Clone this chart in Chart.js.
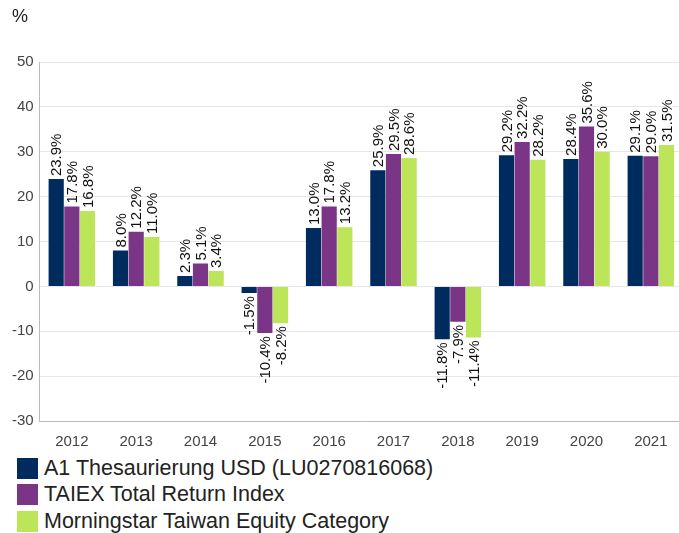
<!DOCTYPE html>
<html>
<head>
<meta charset="utf-8">
<script src="https://cdn.jsdelivr.net/npm/chart.js@4/dist/chart.umd.min.js"></script>
<style>
body { margin: 0; background: #fff; font-family: "Liberation Sans", Arial, sans-serif; overflow: hidden; }
#wrap { position: relative; width: 683px; height: 455px; }
#unit { position: absolute; left: 12px; top: 6px; font-size: 18px; color: #222; }
#legend { padding-left: 17px; margin-top: 0; }
.item { display: flex; align-items: center; height: 26.5px; font-size: 21.5px; color: #222; }
.box { width: 21px; height: 21px; margin-right: 6px; }
</style>
</head>
<body>
<div id="wrap"><canvas id="perfChart"></canvas><div id="unit">%</div></div>
<div id="legend"></div>
<script>
var years = ['2012', '2013', '2014', '2015', '2016', '2017', '2018', '2019', '2020', '2021'];
var fundValues = [23.9, 8.0, 2.3, -1.5, 13.0, 25.9, -11.8, 29.2, 28.4, 29.1];
var indexValues = [17.8, 12.2, 5.1, -10.4, 17.8, 29.5, -7.9, 32.2, 35.6, 29.0];
var categoryValues = [16.8, 11.0, 3.4, -8.2, 13.2, 28.6, -11.4, 28.2, 30.0, 31.5];
var seriesNames = ['A1 Thesaurierung USD (LU0270816068)', 'TAIEX Total Return Index', 'Morningstar Taiwan Equity Category'];
var seriesColors = ['#002b5e', '#7b3586', '#bde55a'];

// rotated value labels above / below each bar
var valueLabels = {
    id: 'valueLabels',
    afterDatasetsDraw: function(chart) {
        var ctx = chart.ctx;
        ctx.save();
        ctx.font = '15px "Liberation Sans", Arial, sans-serif';
        ctx.fillStyle = '#111';
        ctx.textBaseline = 'middle';
        chart.data.datasets.forEach(function(ds, i) {
            chart.getDatasetMeta(i).data.forEach(function(bar, j) {
                var v = ds.data[j];
                ctx.save();
                if (v >= 0) {
                    ctx.translate(bar.x, bar.y - 3);
                    ctx.rotate(-Math.PI / 2);
                    ctx.textAlign = 'left';
                } else {
                    ctx.translate(bar.x, bar.y + 3);
                    ctx.rotate(-Math.PI / 2);
                    ctx.textAlign = 'right';
                }
                ctx.fillText(v.toFixed(1) + '%', 0, 1);
                ctx.restore();
            });
        });
        ctx.restore();
    }
};

var perf = new Chart(document.getElementById('perfChart'), {
    type: 'bar',
    data: {
        labels: years,
        datasets: [{
            label: seriesNames[0],
            data: fundValues,
            backgroundColor: seriesColors[0]
        }, {
            label: seriesNames[1],
            data: indexValues,
            backgroundColor: seriesColors[1]
        }, {
            label: seriesNames[2],
            data: categoryValues,
            backgroundColor: seriesColors[2]
        }]
    },
    options: {
        responsive: true,
        maintainAspectRatio: false,
        animation: false,
        datasets: {
            bar: { categoryPercentage: 0.73, barPercentage: 0.97 }
        },
        layout: { padding: { left: 6, right: 0, top: 62, bottom: 0 } },
        plugins: {
            legend: { display: false },
            tooltip: { enabled: false }
        },
        scales: {
            x: {
                grid: { display: false },
                border: { color: '#bbb' },
                ticks: { color: '#444', font: { size: 15, family: '"Liberation Sans", Arial, sans-serif' }, padding: 4 }
            },
            y: {
                min: -30,
                max: 50,
                ticks: { stepSize: 10, color: '#444', font: { size: 15, family: '"Liberation Sans", Arial, sans-serif' }, padding: 6 },
                grid: { color: '#e6e6e6', drawTicks: false },
                border: { color: '#bbb' }
            }
        }
    },
    plugins: [valueLabels]
});

var legend = document.getElementById('legend');
seriesNames.forEach(function(name, i) {
    var row = document.createElement('div');
    row.className = 'item';
    row.innerHTML = '<span class="box" style="background:' + seriesColors[i] + '"></span>' + name;
    legend.appendChild(row);
});
</script>
</body>
</html>
